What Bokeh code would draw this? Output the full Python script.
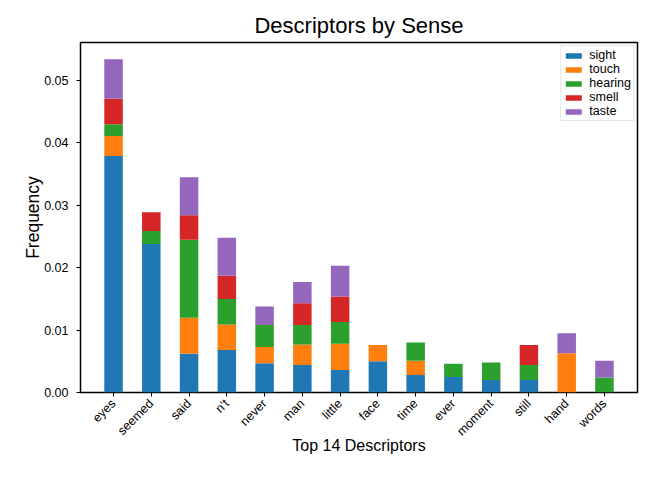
import math
from bokeh.plotting import figure
from bokeh.models import ColumnDataSource, FactorRange, FixedTicker, NumeralTickFormatter, Range1d, Legend, LegendItem
from bokeh.embed import file_html
from bokeh.resources import INLINE

descriptors = ["eyes", "seemed", "said", "n't", "never", "man", "little", "face",
               "time", "ever", "moment", "still", "hand", "words"]
sight   = [0.0379, 0.0238, 0.0062, 0.0068, 0.0047, 0.0044, 0.0036, 0.0050, 0.0028, 0.0025, 0.0020, 0.0020, 0.0,    0.0]
touch   = [0.0032, 0.0,    0.0058, 0.0041, 0.0026, 0.0033, 0.0042, 0.0026, 0.0023, 0.0,    0.0,    0.0,    0.0063, 0.0]
hearing = [0.0019, 0.0021, 0.0125, 0.0041, 0.0035, 0.0031, 0.0035, 0.0,    0.0029, 0.0021, 0.0028, 0.0024, 0.0,    0.0024]
smell   = [0.0041, 0.0030, 0.0039, 0.0037, 0.0,    0.0035, 0.0041, 0.0,    0.0,    0.0,    0.0,    0.0032, 0.0,    0.0]
taste   = [0.0063, 0.0,    0.0061, 0.0061, 0.0030, 0.0034, 0.0049, 0.0,    0.0,    0.0,    0.0,    0.0,    0.0032, 0.0027]

senses = ["sight", "touch", "hearing", "smell", "taste"]
colors = ["#1f77b4", "#ff7f0e", "#2ca02c", "#d62728", "#9467bd"]
y_ticks = [0.0, 0.01, 0.02, 0.03, 0.04, 0.05]

source = ColumnDataSource(dict(x=descriptors, sight=sight, touch=touch,
                               hearing=hearing, smell=smell, taste=taste))

FONT = "Liberation Sans"

p = figure(width=648, height=461, output_backend="svg", toolbar_location=None,
           x_range=FactorRange(factors=descriptors, range_padding=0.375,
                               range_padding_units="absolute"),
           y_range=Range1d(0, 0.0561),
           title="Descriptors by Sense",
           min_border_left=80, min_border_right=11, min_border_bottom=69,
           min_border_top=42)

renderers = p.vbar_stack(senses, x="x", width=0.49, source=source,
                         color=colors, line_color=None)

p.title.align = "center"
p.title.text_font = FONT
p.title.text_font_size = "22px"
p.title.text_font_style = "normal"
p.title.text_color = "black"
p.title.standoff = 10

p.outline_line_color = "black"
p.outline_line_width = 1.5
p.xgrid.visible = False
p.ygrid.visible = False

for ax in (p.xaxis[0], p.yaxis[0]):
    ax.axis_line_color = None
    ax.major_tick_in = 0
    ax.major_tick_out = 4
    ax.minor_tick_line_color = None
    ax.major_label_text_font = FONT
    ax.major_label_text_font_size = "12.5px"
    ax.major_label_text_color = "black"
    ax.axis_label_text_font = FONT
    ax.axis_label_text_font_style = "normal"
    ax.axis_label_text_color = "black"

p.yaxis.ticker = FixedTicker(ticks=y_ticks)
p.yaxis.formatter = NumeralTickFormatter(format="0.00")
p.yaxis.axis_label = "Frequency"
p.yaxis.axis_label_text_font_size = "17.5px"
p.yaxis.axis_label_standoff = -2
p.yaxis.major_label_standoff = 8

p.xaxis.axis_label = "Top 14 Descriptors"
p.xaxis.axis_label_text_font_size = "16px"
p.xaxis.major_label_orientation = math.pi / 4
p.xaxis.major_label_standoff = 5
p.xaxis.axis_label_standoff = -9

legend = Legend(items=[LegendItem(label=s, renderers=[r]) for s, r in zip(senses, renderers)],
                location="top_right")
legend.label_text_font = FONT
legend.label_text_font_size = "12.5px"
legend.label_text_color = "black"
legend.glyph_width = 20
legend.glyph_height = 7
legend.label_height = 12
legend.spacing = 0
legend.padding = 2
legend.margin = 3
legend.label_standoff = 6
legend.border_line_color = "#cccccc"
legend.border_line_width = 1
legend.background_fill_alpha = 0.8
p.add_layout(legend)

open("out.html", "w").write(file_html(p, INLINE))
